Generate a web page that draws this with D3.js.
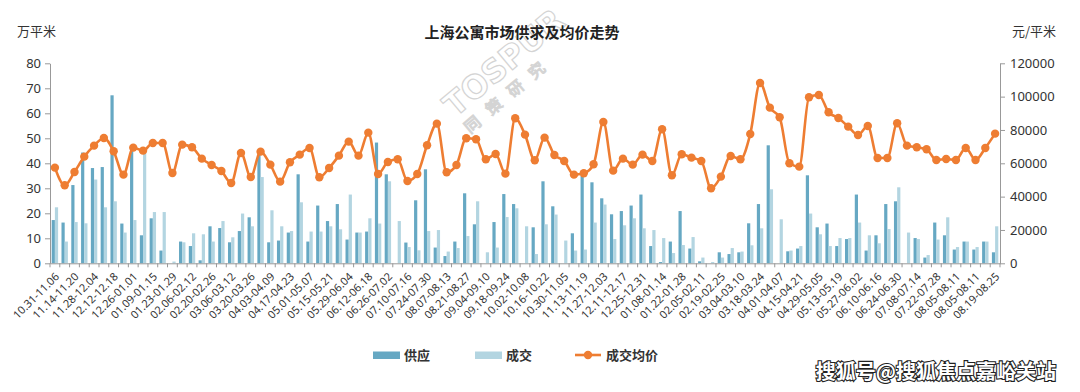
<!DOCTYPE html>
<html><head><meta charset="utf-8">
<script src="https://cdn.jsdelivr.net/npm/d3@7"></script>
<style>
body{margin:0;background:#fff}
svg{display:block}
text{font-family:"Noto Sans CJK SC","Noto Sans",sans-serif}
</style>
</head><body>
<svg id="c" width="1080" height="392"></svg>
<script>
const categories = [
"10.31-11.06","11.07-11.13","11.14-11.20","11.21-11.27","11.28-12.04","12.05-12.11","12.12-12.18","12.19-12.25","12.26-01.01",
"01.02-01.08","01.09-01.15","01.16-01.22","01.23-01.29","01.30-02.05","02.06-02.12","02.13-02.19","02.20-02.26","02.27-03.05",
"03.06-03.12","03.13-03.19","03.20-03.26","03.27-04.02","04.03-04.09","04.10-04.16","04.17-04.23","04.24-04.30","05.01-05.07",
"05.08-05.14","05.15-05.21","05.22-05.28","05.29-06.04","06.05-06.11","06.12-06.18","06.19-06.25","06.26-07.02","07.03-07.09",
"07.10-07.16","07.17-07.23","07.24-07.30","07.31-08.06","08.07-08.13","08.14-08.20","08.21-08.27","08.28-09.03","09.04-09.10",
"09.11-09.17","09.18-09.24","09.25-10.01","10.02-10.08","10.09-10.15","10.16-10.22","10.23-10.29","10.30-11.05","11.06-11.12",
"11.13-11.19","11.20-11.26","11.27-12.03","12.04-12.10","12.11-12.17","12.18-12.24","12.25-12.31","01.01-01.07","01.08-01.14",
"01.15-01.21","01.22-01.28","01.29-02.04","02.05-02.11","02.12-02.18","02.19-02.25","02.26-03.03","03.04-03.10","03.11-03.17",
"03.18-03.24","03.25-03.31","04.01-04.07","04.08-04.14","04.15-04.21","04.22-04.28","04.29-05.05","05.06-05.12","05.13-05.19",
"05.20-05.26","05.27-06.02","06.03-06.09","06.10-06.16","06.17-06.23","06.24-06.30","07.01-07.07","07.08-07.14","07.15-07.21",
"07.22-07.28","07.29-08.04","08.05-08.11","08.12-08.18","08.05-08.11","08.12-08.18","08.19-08.25"
];
// 供应 (万平米)
const supply = [
17.3,16.3,31.3,44.3,38.1,38.5,67.2,15.9,44.9,11.2,18,5.1,0,8.7,6.9,1.2,14.8,14.1,8.4,12.9,18.4,43.5,8.4,9.1,12.3,35.6,8.7,23.1,16.9,23.7,9.5,12.3,
12.7,48.3,35.6,0,8.3,25.2,37.6,6.3,2.9,8.7,28,15.6,0,16.5,27.7,23.7,0,14.4,32.8,22.8,0,12,35.2,32.4,26,19.6,20.9,23.1,27.5,6.9,0.5,8.7,
20.9,5.9,0.8,0,4.4,3.7,4.4,16,23.7,47.2,0,4.8,5.9,35.2,14.4,15.9,6.9,9.7,27.5,5.1,11.2,23.7,24.8,0,10.1,2.3,16.3,11.2,5.5,8.7,5.5,8.7,4.4
];
// 成交 (万平米)
const deal = [
22.4,8.7,16.5,16,33.5,22.4,24.8,12.3,17.3,44.3,20.5,20.5,0.7,8.4,12,11.6,8.7,16.9,10.4,19.9,14.8,34.5,21.2,14.8,12.9,24.4,12.7,12.7,14.8,13.6,27.5,12.3,
18,15.9,32.8,16.9,6.5,5.2,12.9,13.3,4.7,6.1,10.9,24.8,4.4,6.3,18.5,22,14.8,3.7,15.6,19.5,9.1,5.1,5.5,16.3,23.5,9.7,15.2,18,14,13.3,10.1,4.1,
7.3,10.5,2.3,0.5,2.3,6.1,4.7,7.2,14,29.6,17.6,5.1,6.9,19.9,11.6,6.9,10.1,10.1,16.3,11.2,8,13.7,30.4,12.3,9.7,3.3,9.5,18.4,6.5,8.7,6.5,8.7,14.8
];
// 成交均价 (元/平米)
const price = [
57400,46800,54800,64000,70600,75200,67200,53200,69400,67600,72200,72200,54200,71200,69600,62800,59000,55400,48200,66200,51800,67000,59200,49000,60600,65200,69200,51600,57200,64600,73000,64600,
78400,53600,60800,62400,49400,53600,70800,83800,54600,59000,75000,74400,62400,65600,53800,87000,77200,61800,75400,65000,61400,53200,54000,59400,84800,55600,62800,59200,65200,61400,80400,52800,
65400,63400,61400,45000,52000,64400,62400,77600,108200,93400,87600,60000,58000,99600,101000,90600,87200,82000,77000,82400,63200,63200,84000,70600,69600,68400,62000,62600,62000,69200,62000,69200,77800
];
const leftTicks = [0,10,20,30,40,50,60,70,80];
const rightTicks = [0,20000,40000,60000,80000,100000,120000];
const seriesNames = ["供应","成交","成交均价"];
const title = "上海公寓市场供求及均价走势";

const C = {supply:"#66a8c3", deal:"#b3d5e1", line:"#ee7d32", axis:"#999", text:"#333"};
const P = {l:50, r:1000, t:63.3, b:263.3};
const svg = d3.select("#c");

// faint logo watermark
const wm = svg.append("g").attr("fill","none").attr("stroke","#d4d4d4").attr("stroke-width",1.2);
wm.append("text").attr("transform","translate(455,118) rotate(-40)")
  .style("font-size","32px").style("font-weight","bold").style("font-family","'DejaVu Sans',sans-serif").text("TOSPUR");
wm.append("text").attr("transform","translate(470,134) rotate(-40)")
  .style("font-size","16px").attr("letter-spacing","12px").text("同策研究");

const x = d3.scaleBand().domain(d3.range(categories.length)).range([P.l, P.r]).padding(0);
const yL = d3.scaleLinear().domain([0,80]).range([P.b, P.t]);
const yR = d3.scaleLinear().domain([0,120000]).range([P.b, P.t]);
const bw = 3.2;
const cx = i => x(i) + x.bandwidth()/2;

// bars
svg.append("g").selectAll("rect").data(supply).join("rect")
  .attr("x",(d,i)=>cx(i)-bw).attr("y",d=>yL(d)).attr("width",bw).attr("height",d=>P.b-yL(d)).attr("fill",C.supply);
svg.append("g").selectAll("rect").data(deal).join("rect")
  .attr("x",(d,i)=>cx(i)).attr("y",d=>yL(d)).attr("width",bw).attr("height",d=>P.b-yL(d)).attr("fill",C.deal);

// left axis
const gL = svg.append("g").attr("transform",`translate(${P.l},0)`)
  .call(d3.axisLeft(yL).tickValues(leftTicks).tickSize(5).tickSizeOuter(0).tickPadding(4));
// right axis
const gR = svg.append("g").attr("transform",`translate(${P.r},0)`)
  .call(d3.axisRight(yR).tickValues(rightTicks).tickFormat(d3.format("d")).tickSize(5).tickSizeOuter(0).tickPadding(5));
[gL,gR].forEach(g=>{
  g.select(".domain").attr("stroke",C.axis);
  g.selectAll(".tick line").attr("stroke",C.axis);
  g.selectAll(".tick text").attr("fill",C.text).style("font-size","13px").style("font-family","'Noto Sans','Noto Sans CJK SC',sans-serif");
});

// bottom axis
const gB = svg.append("g").attr("transform",`translate(0,${P.b})`)
  .call(d3.axisBottom(x).tickValues(d3.range(0,categories.length,2)).tickFormat(i=>categories[i]).tickSize(0).tickSizeOuter(0).tickPadding(0));
gB.select(".domain").attr("stroke",C.axis);
gB.selectAll(".tick text")
  .attr("fill",C.text).style("font-size","11px").style("font-family","'Noto Sans',sans-serif")
  .attr("text-anchor","end").attr("dy",null).attr("y",null)
  .attr("transform","translate(5,14) rotate(-45)");
svg.append("g").selectAll("line").data(d3.range(categories.length+1)).join("line")
  .attr("x1",i=> i<categories.length ? x(i) : P.r).attr("x2",i=> i<categories.length ? x(i) : P.r)
  .attr("y1",P.b).attr("y2",P.b+4).attr("stroke",C.axis);

// line
const line = d3.line().x((d,i)=>cx(i)).y(d=>yR(d)).curve(d3.curveMonotoneX);
svg.append("path").datum(price).attr("d",line).attr("fill","none").attr("stroke",C.line).attr("stroke-width",2.6);
svg.append("g").selectAll("circle").data(price).join("circle")
  .attr("cx",(d,i)=>cx(i)).attr("cy",d=>yR(d)).attr("r",4.2).attr("fill",C.line);

// titles
svg.append("text").attr("x",522).attr("y",38).attr("text-anchor","middle")
  .style("font-size","15px").style("font-weight","bold").attr("fill","#222").text(title);
svg.append("text").attr("x",17).attr("y",36).style("font-size","13px").attr("fill",C.text).text("万平米");
svg.append("text").attr("x",1012).attr("y",36).style("font-size","13px").attr("fill",C.text).text("元/平米");

// legend
const lg = svg.append("g");
lg.append("rect").attr("x",373).attr("y",351.5).attr("width",27).attr("height",7.5).attr("fill",C.supply);
lg.append("text").attr("x",404).attr("y",360).style("font-size","13px").style("font-weight","bold").attr("fill",C.text).text(seriesNames[0]);
lg.append("rect").attr("x",475).attr("y",351.5).attr("width",27).attr("height",7.5).attr("fill",C.deal);
lg.append("text").attr("x",506).attr("y",360).style("font-size","13px").style("font-weight","bold").attr("fill",C.text).text(seriesNames[1]);
lg.append("line").attr("x1",575).attr("x2",601).attr("y1",355).attr("y2",355).attr("stroke",C.line).attr("stroke-width",2.6);
lg.append("circle").attr("cx",588).attr("cy",355).attr("r",4.2).attr("fill",C.line);
lg.append("text").attr("x",606).attr("y",360).style("font-size","13px").style("font-weight","bold").attr("fill",C.text).text(seriesNames[2]);

// source watermark
svg.append("text").attr("x",1056).attr("y",379).attr("text-anchor","end")
  .style("font-size","20px").style("font-weight","bold")
  .attr("fill","#fff").attr("stroke","#222").attr("stroke-width",2.2).attr("paint-order","stroke")
  .text("搜狐号@搜狐焦点嘉峪关站");
</script>
</body></html>
